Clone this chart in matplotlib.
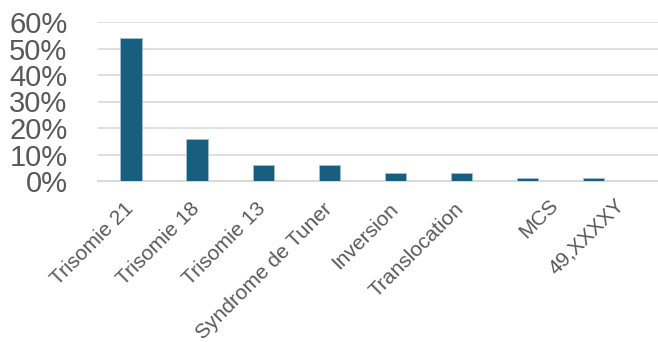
import matplotlib.pyplot as plt
from matplotlib.ticker import FuncFormatter
from matplotlib.transforms import ScaledTranslation

categories = ["Trisomie 21", "Trisomie 18", "Trisomie 13", "Syndrome de Tuner",
              "Inversion", "Translocation", "MCS", "49,XXXXY"]
values = [0.54, 0.16, 0.06, 0.06, 0.03, 0.03, 0.01, 0.01]
yticks = [0, 0.1, 0.2, 0.3, 0.4, 0.5, 0.6]

plt.rcParams["font.family"] = ["Liberation Sans", "DejaVu Sans"]


def main():
    fig = plt.figure(figsize=(6.58, 3.42), dpi=100)
    ax = fig.add_axes([98 / 658, 1 - 181 / 342, 1 - 98 / 658, (181 - 22) / 342])
    x = range(len(categories))
    ax.bar(x, values, width=0.32, color="#175e7f", edgecolor="#9fc0d0",
           linewidth=0.6, zorder=3)
    ax.set_ylim(0, 0.6)
    ax.set_xlim(-0.5, 7.98)
    ax.set_yticks(yticks)
    ax.yaxis.set_major_formatter(FuncFormatter(lambda v, p: f"{v * 100:.0f}%"))
    ax.grid(axis="y", color="#d9d9d9", linewidth=1.2, zorder=0)
    for s in ["top", "right", "left"]:
        ax.spines[s].set_visible(False)
    ax.spines["bottom"].set_color("#d9d9d9")
    ax.spines["bottom"].set_linewidth(1.5)
    ax.set_xticks(list(x))
    ax.set_xticklabels(categories, rotation=45, ha="right",
                       rotation_mode="anchor", fontsize=15, color="#595959")
    ax.tick_params(axis="x", length=0, pad=13)
    ax.tick_params(axis="y", length=0, pad=22, labelsize=21, labelcolor="#595959")
    # excel shifts the two short labels to the right
    for i, lab in enumerate(ax.get_xticklabels()):
        dx = -0.07 + (0.28 if i >= 6 else 0)
        dy = 0.04 if i >= 6 else 0
        lab.set_transform(lab.get_transform()
                          + ScaledTranslation(dx, dy, fig.dpi_scale_trans))
    fig.savefig("out.png", dpi=100)


if __name__ == "__main__":
    main()
